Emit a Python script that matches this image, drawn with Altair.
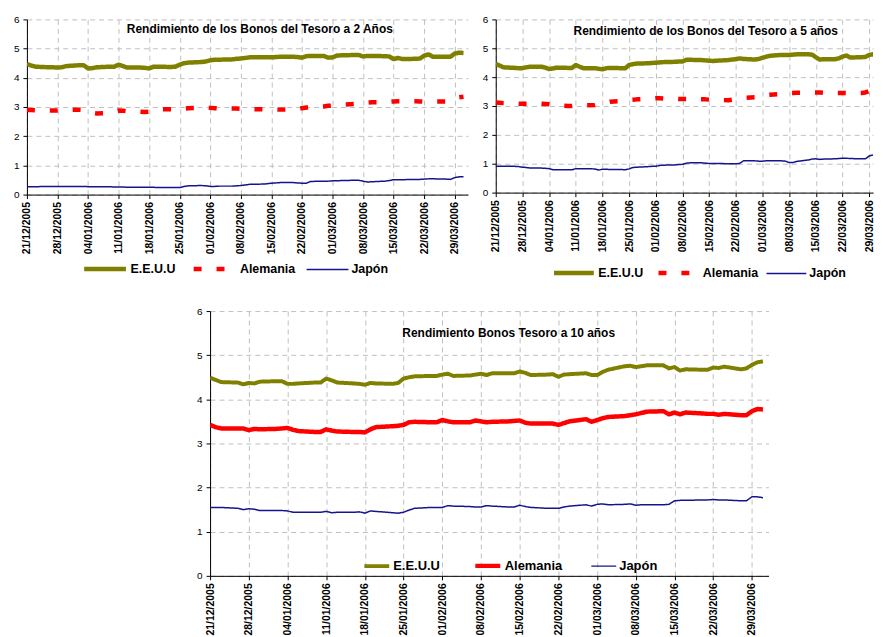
import altair as alt
import pandas as pd

# ---------------- data ----------------
series = ["E.E.U.U", "Alemania", "Japón"]
colors = ["#808000", "#ff0000", "#14148c"]

# business days 21/12/2005 .. 31/03/2006
dates = [d.strftime("%Y-%m-%d") for d in pd.bdate_range("2005-12-21", "2006-03-31")]

tick_labels = ["2005-12-21", "2005-12-28", "2006-01-04", "2006-01-11", "2006-01-18",
               "2006-01-25", "2006-02-01", "2006-02-08", "2006-02-15", "2006-02-22",
               "2006-03-01", "2006-03-08", "2006-03-15", "2006-03-22", "2006-03-29"]

# 2-year yields
us2 = [4.47, 4.42, 4.38, 4.36, 4.36,
       4.35, 4.36, 4.40, 4.43, 4.43,
       4.32, 4.33, 4.36, 4.38, 4.38,
       4.45, 4.40, 4.35, 4.35, 4.34,
       4.32, 4.38, 4.38, 4.37, 4.38,
       4.45, 4.50, 4.52, 4.54, 4.56,
       4.60, 4.62, 4.62, 4.63, 4.65,
       4.66, 4.68, 4.70, 4.70, 4.70,
       4.70, 4.71, 4.72, 4.72, 4.71,
       4.69, 4.74, 4.75, 4.75, 4.69,
       4.70, 4.76, 4.77, 4.78, 4.78,
       4.73, 4.75, 4.75, 4.74, 4.73,
       4.64, 4.68, 4.64, 4.65, 4.66,
       4.76, 4.80, 4.72, 4.72, 4.72,
       4.83, 4.86, 4.85]
de2 = [2.90, 2.90, 2.89, 2.88, 2.88,
       2.88, 2.89, 2.90, 2.91, 2.90,
       2.85, 2.80, 2.78, 2.80, 2.84,
       2.88, 2.87, 2.85, 2.84, 2.83,
       2.84, 2.88, 2.92, 2.92, 2.93,
       2.94, 2.94, 2.96, 2.98, 2.98,
       2.97, 2.96, 2.95, 2.95, 2.95,
       2.94, 2.93, 2.93, 2.92, 2.91,
       2.91, 2.91, 2.91, 2.92, 2.94,
       2.96, 2.98, 2.99, 3.02, 3.04,
       3.05, 3.06, 3.08, 3.10, 3.12,
       3.13, 3.15, 3.16, 3.17, 3.18,
       3.19, 3.20, 3.20, 3.20, 3.19,
       3.18, 3.18, 3.19, 3.19, 3.20,
       3.28, 3.33, 3.35]
jp2 = [0.27, 0.27, 0.27, 0.28, 0.28,
       0.28, 0.28, 0.28, 0.28, 0.28,
       0.27, 0.27, 0.27, 0.27, 0.26,
       0.26, 0.26, 0.25, 0.25, 0.25,
       0.25, 0.25, 0.24, 0.24, 0.24,
       0.24, 0.28, 0.30, 0.31, 0.30,
       0.28, 0.28, 0.29, 0.29, 0.30,
       0.31, 0.33, 0.35, 0.36, 0.37,
       0.39, 0.40, 0.41, 0.41, 0.40,
       0.39, 0.39, 0.45, 0.46, 0.46,
       0.47, 0.47, 0.48, 0.49, 0.49,
       0.46, 0.43, 0.44, 0.46, 0.48,
       0.51, 0.51, 0.51, 0.52, 0.52,
       0.53, 0.54, 0.54, 0.53, 0.52,
       0.58, 0.61, 0.61]

# 5-year yields
us5 = [4.46, 4.40, 4.34, 4.32, 4.31,
       4.31, 4.34, 4.36, 4.36, 4.33,
       4.28, 4.30, 4.33, 4.32, 4.32,
       4.42, 4.36, 4.31, 4.31, 4.29,
       4.27, 4.31, 4.32, 4.31, 4.31,
       4.42, 4.45, 4.47, 4.48, 4.49,
       4.50, 4.51, 4.52, 4.53, 4.54,
       4.54, 4.60, 4.60, 4.59, 4.58,
       4.57, 4.56, 4.57, 4.59, 4.61,
       4.62, 4.65, 4.63, 4.61, 4.63,
       4.67, 4.71, 4.74, 4.77, 4.77,
       4.77, 4.78, 4.79, 4.79, 4.78,
       4.69, 4.61, 4.62, 4.62, 4.65,
       4.71, 4.75, 4.68, 4.69, 4.70,
       4.77, 4.79, 4.80]
de5 = [3.12, 3.11, 3.10, 3.09, 3.08,
       3.08, 3.08, 3.08, 3.08, 3.07,
       3.06, 3.04, 3.02, 3.00, 3.00,
       3.01, 3.02, 3.02, 3.03, 3.06,
       3.09, 3.12, 3.15, 3.17, 3.19,
       3.21, 3.22, 3.23, 3.25, 3.26,
       3.27, 3.27, 3.26, 3.25, 3.24,
       3.24, 3.24, 3.23, 3.23, 3.23,
       3.22, 3.22, 3.21, 3.20, 3.22,
       3.24, 3.26, 3.28, 3.30, 3.33,
       3.36, 3.38, 3.39, 3.42, 3.44,
       3.45, 3.45, 3.46, 3.46, 3.47,
       3.47, 3.47, 3.46, 3.45, 3.45,
       3.45, 3.45, 3.45, 3.45, 3.47,
       3.52, 3.58, 3.60]
jp5 = [0.91, 0.91, 0.91, 0.91, 0.90,
       0.88, 0.87, 0.85, 0.85, 0.84,
       0.83, 0.79, 0.79, 0.79, 0.79,
       0.83, 0.83, 0.83, 0.82, 0.78,
       0.81, 0.81, 0.80, 0.80, 0.79,
       0.82, 0.87, 0.88, 0.90, 0.91,
       0.91, 0.94, 0.95, 0.96, 0.97,
       0.98, 1.02, 1.03, 1.03, 1.02,
       1.01, 1.01, 1.01, 1.00, 1.00,
       1.00, 1.01, 1.10, 1.10, 1.09,
       1.09, 1.10, 1.10, 1.10, 1.09,
       1.04, 1.04, 1.08, 1.13, 1.16,
       1.17, 1.15, 1.16, 1.17, 1.18,
       1.19, 1.19, 1.18, 1.17, 1.17,
       1.27, 1.30, 1.31]

# 10-year yields
us10 = [4.49, 4.44, 4.39, 4.38, 4.34,
        4.37, 4.36, 4.40, 4.41, 4.41,
        4.35, 4.35, 4.36, 4.38, 4.38,
        4.47, 4.43, 4.38, 4.36, 4.35,
        4.33, 4.37, 4.36, 4.35, 4.37,
        4.47, 4.50, 4.52, 4.53, 4.53,
        4.56, 4.58, 4.53, 4.54, 4.56,
        4.58, 4.55, 4.59, 4.59, 4.59,
        4.63, 4.60, 4.55, 4.56, 4.57,
        4.51, 4.56, 4.57, 4.59, 4.55,
        4.55, 4.62, 4.67, 4.75, 4.76,
        4.73, 4.75, 4.77, 4.77, 4.70,
        4.73, 4.65, 4.68, 4.67, 4.67,
        4.72, 4.71, 4.74, 4.68, 4.70,
        4.78, 4.84, 4.86]
de10 = [3.42, 3.37, 3.34, 3.34, 3.34,
        3.30, 3.33, 3.32, 3.33, 3.34,
        3.35, 3.31, 3.28, 3.26, 3.26,
        3.32, 3.29, 3.27, 3.26, 3.26,
        3.25, 3.32, 3.37, 3.39, 3.40,
        3.42, 3.48, 3.49, 3.48, 3.48,
        3.53, 3.50, 3.48, 3.48, 3.52,
        3.50, 3.48, 3.49, 3.50, 3.51,
        3.52, 3.47, 3.45, 3.45, 3.45,
        3.42, 3.46, 3.50, 3.55, 3.49,
        3.53, 3.57, 3.60, 3.62, 3.64,
        3.66, 3.69, 3.72, 3.73, 3.66,
        3.70, 3.66, 3.70, 3.68, 3.67,
        3.67, 3.65, 3.67, 3.64, 3.64,
        3.73, 3.78, 3.77]
jp10 = [1.55, 1.55, 1.55, 1.53, 1.50,
        1.52, 1.51, 1.48, 1.48, 1.48,
        1.47, 1.44, 1.44, 1.44, 1.44,
        1.46, 1.43, 1.44, 1.44, 1.45,
        1.42, 1.47, 1.46, 1.43, 1.42,
        1.44, 1.49, 1.53, 1.55, 1.55,
        1.55, 1.59, 1.58, 1.57, 1.56,
        1.56, 1.59, 1.58, 1.56, 1.56,
        1.60, 1.57, 1.55, 1.53, 1.53,
        1.53, 1.56, 1.58, 1.61, 1.58,
        1.62, 1.63, 1.61, 1.62, 1.63,
        1.60, 1.61, 1.61, 1.61, 1.62,
        1.70, 1.71, 1.71, 1.72, 1.72,
        1.73, 1.72, 1.72, 1.70, 1.70,
        1.79, 1.79, 1.77]

titles = ["Rendimiento de los Bonos del Tesoro a 2 Años",
          "Rendimiento de los Bonos del Tesoro a 5 años",
          "Rendimiento Bonos Tesoro a 10 años"]

FONT = "Liberation Sans"


def ms(s):
    return int(pd.Timestamp(s).value // 10**6)


tick_ms = [ms(t) for t in tick_labels]


def frame(us, de, jp):
    rows = []
    for name, vals in zip(series, [us, de, jp]):
        for d, v in zip(dates, vals):
            rows.append({"date": d, "value": v, "country": name})
    return pd.DataFrame(rows)


def panel(title, us, de, jp, width, height, dom_end, dashes, widths,
          legend_x, legend_y, sym_len, col_pad, label_size, title_x, title_y):
    df = frame(us, de, jp)
    leg = alt.Legend(orient="none", legendX=legend_x, legendY=legend_y,
                     direction="horizontal", title=None, symbolType="stroke",
                     symbolSize=sym_len * sym_len, labelFontSize=label_size,
                     labelFontWeight="bold", labelColor="black", labelFont=FONT,
                     columnPadding=col_pad, labelOffset=2, padding=0)
    lines = alt.Chart(df).mark_line(clip=True, strokeCap="butt", strokeJoin="round").encode(
        x=alt.X("date:T",
                scale=alt.Scale(type="utc", domain=[ms("2005-12-21"), ms(dom_end)]),
                axis=alt.Axis(values=tick_ms, title=None,
                              labelExpr="utcFormat(datum.value, '%d/%m/%Y')")),
        y=alt.Y("value:Q", scale=alt.Scale(domain=[0, 6], nice=False),
                axis=alt.Axis(values=[0, 1, 2, 3, 4, 5, 6], format="d", title=None)),
        color=alt.Color("country:N", scale=alt.Scale(domain=series, range=colors), legend=leg),
        strokeDash=alt.StrokeDash("country:N", scale=alt.Scale(domain=series, range=dashes), legend=leg),
        strokeWidth=alt.StrokeWidth("country:N",
                                    scale=alt.Scale(type="ordinal", domain=series, range=widths),
                                    legend=leg),
    )
    ttl = alt.Chart(pd.DataFrame({"t": [title]})).mark_text(
        font=FONT, fontSize=12, fontWeight="bold", align="center", baseline="middle", color="black"
    ).encode(x=alt.value(title_x), y=alt.value(title_y), text="t:N")
    return alt.layer(lines, ttl).properties(width=width, height=height)


p1 = panel(titles[0], us2, de2, jp2, 443, 176, "2006-04-01",
           [[1, 0], [8, 15], [1, 0]], [4.5, 4.5, 1.5],
           55, 227, 42, 8, 12.5, 234, 10)
p2 = panel(titles[1], us5, de5, jp5, 379, 174, "2006-03-30",
           [[1, 0], [8, 15], [1, 0]], [4.5, 4.5, 1.5],
           56, 232, 40, 5, 12.5, 211, 12)
p3 = panel(titles[2], us10, de10, jp10, 561, 266, "2006-04-01",
           [[1, 0], [1, 0], [1, 0]], [4, 4.5, 1.5],
           153, 241, 25, 26, 13, 300, 22)

spacer = alt.Chart(pd.DataFrame({"t": [""]})).mark_text().encode(
    x=alt.value(0), y=alt.value(0), text="t:N").properties(width=170, height=10)

indep = dict(color="independent", strokeDash="independent", strokeWidth="independent")

top = alt.hconcat(p1, p2, spacing=14).resolve_scale(**indep).resolve_legend(**indep)
bottom = alt.hconcat(spacer, p3, spacing=0).resolve_scale(**indep).resolve_legend(**indep)

chart = alt.vconcat(top, bottom, spacing=23).resolve_scale(**indep).resolve_legend(**indep).properties(
    padding={"left": 5, "top": 5, "right": 0, "bottom": 0},
    background="white",
).configure_view(stroke=None).configure_axis(
    grid=True, gridColor="#c0c0c0", gridDash=[5, 4], gridWidth=1,
    domainColor="black", tickColor="black", domainWidth=1,
    labelFont=FONT, labelColor="black",
).configure_axisX(
    labelAngle=270, labelFontSize=10.5, labelFontWeight="bold", tickSize=4,
    labelPadding=3, labelOverlap=False, labelFlush=False, labelBound=False,
).configure_axisY(
    labelFontSize=10, tickSize=4, labelPadding=4,
)

chart.save("out.html", embed_options={"renderer": "svg", "actions": False})
